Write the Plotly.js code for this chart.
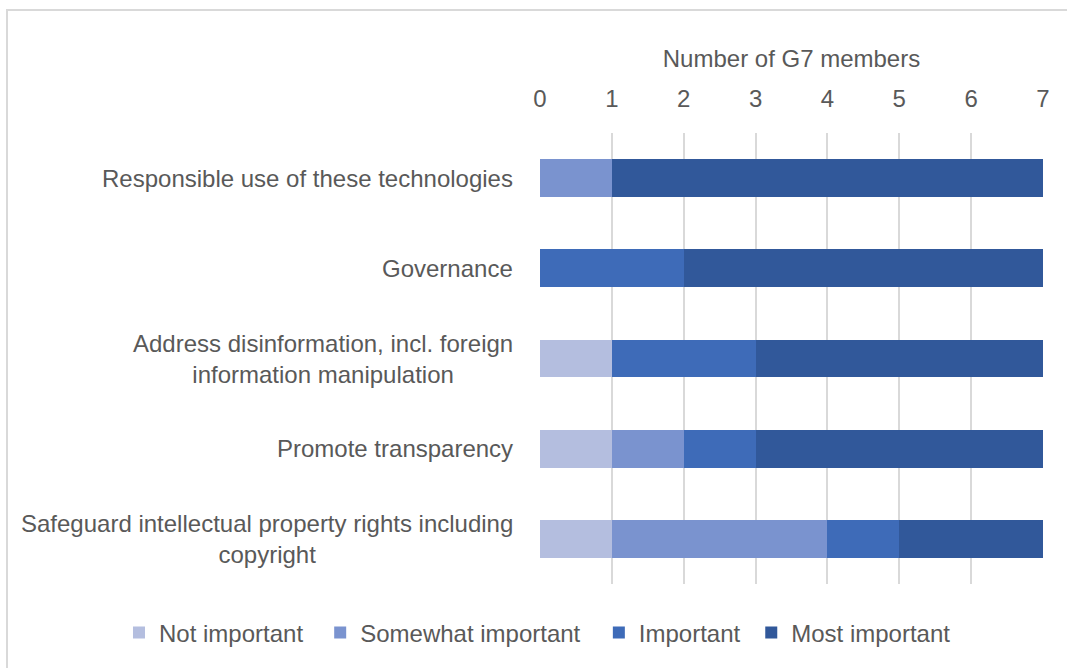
<!DOCTYPE html>
<html>
<head>
<meta charset="utf-8">
<script src="https://cdn.plot.ly/plotly-3.0.1.min.js"></script>
<style>
html,body{margin:0;padding:0;background:#fff;}
#chart{width:1067px;height:668px;}
</style>
</head>
<body>
<div id="chart"></div>
<script>
var categories = [
  "Responsible use of these technologies",
  "Governance",
  "Address disinformation, incl. foreign<br>information manipulation",
  "Promote transparency",
  "Safeguard intellectual property rights including<br>copyright"
];
var seriesNames = ["Not important", "Somewhat important", "Important", "Most important"];
var notImportant      = [0, 0, 1, 1, 1];
var somewhatImportant = [1, 0, 0, 1, 3];
var important         = [0, 2, 2, 1, 1];
var mostImportant     = [6, 5, 4, 4, 2];
var xTickVals = [0, 1, 2, 3, 4, 5, 6, 7];
var xTitle = "Number of G7 members";

var colors = ["#b4bedf", "#7a93cf", "#3e6bb8", "#31589a"];
var values = [notImportant, somewhatImportant, important, mostImportant];
var FONT = "'Liberation Sans', Arial, sans-serif";
var TXT = "#595959";
var legendX = [-0.837, -0.437, 0.117, 0.420];
var legendIds = ["legend", "legend2", "legend3", "legend4"];

var traces = values.map(function(v, i){
  return {
    type: "bar",
    orientation: "h",
    name: seriesNames[i],
    legend: legendIds[i],
    showlegend: true,
    y: categories,
    x: v,
    marker: {color: colors[i], line: {width: 0}},
    hoverinfo: "x+name"
  };
});

var annotations = categories.map(function(c){
  return {
    xref: "paper", yref: "y",
    x: 0, y: c,
    xanchor: "right", yanchor: "middle",
    xshift: -25,
    text: c,
    align: "center",
    showarrow: false,
    font: {family: FONT, size: 24, color: TXT}
  };
});

var layout = {
  width: 1067, height: 668,
  margin: {l: 540, r: 24, t: 133, b: 84, autoexpand: false},
  paper_bgcolor: "#ffffff",
  plot_bgcolor: "#ffffff",
  showlegend: true,
  barmode: "stack",
  bargap: 0.58,
  font: {family: FONT, size: 24, color: TXT},
  xaxis: {
    side: "top",
    range: [0, 7],
    tickvals: xTickVals,
    showgrid: true,
    gridcolor: "#d9d9d9",
    gridwidth: 2,
    zeroline: false,
    showline: false,
    ticks: "",
    ticklabelstandoff: 20,
    tickfont: {family: FONT, size: 24, color: TXT},
    title: {text: xTitle, font: {family: FONT, size: 24, color: TXT}, standoff: 10}
  },
  yaxis: {
    autorange: "reversed",
    showticklabels: false,
    showgrid: false,
    zeroline: false,
    showline: false,
    ticks: ""
  },
  annotations: annotations
};
legendIds.forEach(function(id, i){
  layout[id] = {
    orientation: "h",
    x: legendX[i], xanchor: "left",
    y: -0.1086, yanchor: "middle",
    bgcolor: "rgba(0,0,0,0)",
    font: {family: FONT, size: 24, color: TXT},
    itemwidth: 30
  };
});

Plotly.newPlot("chart", traces, layout, {displayModeBar: false, staticPlot: true}).then(function(){
  var svg = document.querySelector("#chart .main-svg");
  var ns = "http://www.w3.org/2000/svg";
  var r = document.createElementNS(ns, "rect");
  r.setAttribute("x", 7); r.setAttribute("y", 10);
  r.setAttribute("width", 1070); r.setAttribute("height", 680);
  r.setAttribute("fill", "none");
  r.setAttribute("stroke", "#d9d9d9");
  r.setAttribute("stroke-width", 2);
  svg.appendChild(r);
});
</script>
</body>
</html>
